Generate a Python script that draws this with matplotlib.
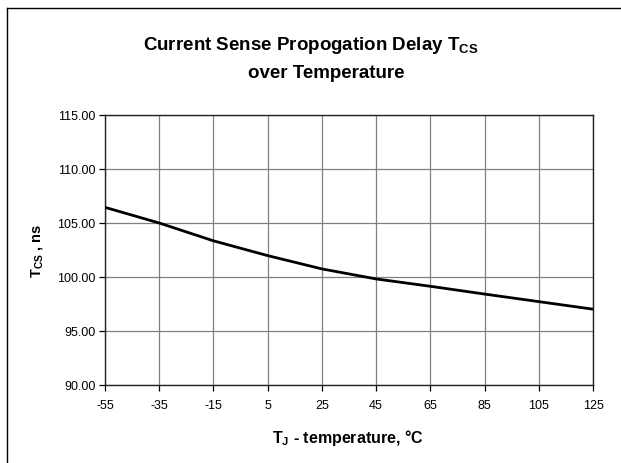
import matplotlib
matplotlib.use("Agg")
import matplotlib.pyplot as plt
from matplotlib.lines import Line2D

plt.rcParams["font.family"] = ["Liberation Sans", "DejaVu Sans"]
plt.rcParams["mathtext.fontset"] = "custom"
plt.rcParams["mathtext.rm"] = "Liberation Sans"
plt.rcParams["mathtext.bf"] = "Liberation Sans:bold"
plt.rcParams["axes.unicode_minus"] = False

# junction temperature (degC) vs current sense propagation delay (ns)
temps = [-55, -35, -15, 5, 25, 45, 65, 85, 105, 125]
delay_ns = [106.45, 105.0, 103.35, 101.98, 100.75, 99.82, 99.14, 98.42, 97.72, 97.02]

xticks = [-55, -35, -15, 5, 25, 45, 65, 85, 105, 125]
yticks = [90, 95, 100, 105, 110, 115]

INK = "#000000"
GRID_C = "#808080"
W, H = 621, 464

fig = plt.figure(figsize=(W / 100, H / 100), dpi=100, facecolor="white")
# outer chart-area frame: only its left and top edges fall inside the picture
fx, fy = 6.5 / W, 1 - 8.5 / H
fig.add_artist(Line2D([fx, fx], [-0.05, fy], transform=fig.transFigure,
                      color=INK, lw=1.0))
fig.add_artist(Line2D([fx, 1.05], [fy, fy], transform=fig.transFigure,
                      color=INK, lw=1.0))

ax = fig.add_axes([105 / W, 1 - 386 / H, (593 - 105) / W, (386 - 116) / H])
ax.plot(temps, delay_ns, color=INK, lw=2.0, solid_capstyle="butt", zorder=3)

ax.set_xlim(-55, 125)
ax.set_ylim(90, 115)
ax.set_xticks(xticks)
ax.set_yticks(yticks)
ax.set_yticklabels([f"{v:.2f}" for v in yticks])
ax.grid(True, color=GRID_C, lw=0.9, zorder=0)
ax.tick_params(direction="out", length=4, width=0.9, colors=INK,
               labelsize=9, pad=3)
ax.tick_params(axis="x", pad=6)
for s in ax.spines.values():
    s.set_color("#222222")
    s.set_linewidth(1.0)

fig.text(311 / W, 1 - 46 / H,
         r"Current Sense Propogation Delay T$_{\mathbf{CS}}$",
         ha="center", va="center", fontsize=13.5, fontweight="bold")
fig.text(326 / W, 1 - 73 / H, "over Temperature",
         ha="center", va="center", fontsize=13.5, fontweight="bold")
fig.text(348 / W, 1 - 438 / H, r"T$_{\mathbf{J}}$ - temperature, °C",
         ha="center", va="center", fontsize=11.5, fontweight="bold")
fig.text(38 / W, 1 - 251 / H, r"T$_{\mathbf{CS}}$ , ns",
         ha="center", va="center", fontsize=10.5, fontweight="bold",
         rotation=90)

fig.savefig("out.png", dpi=100, facecolor="white")
